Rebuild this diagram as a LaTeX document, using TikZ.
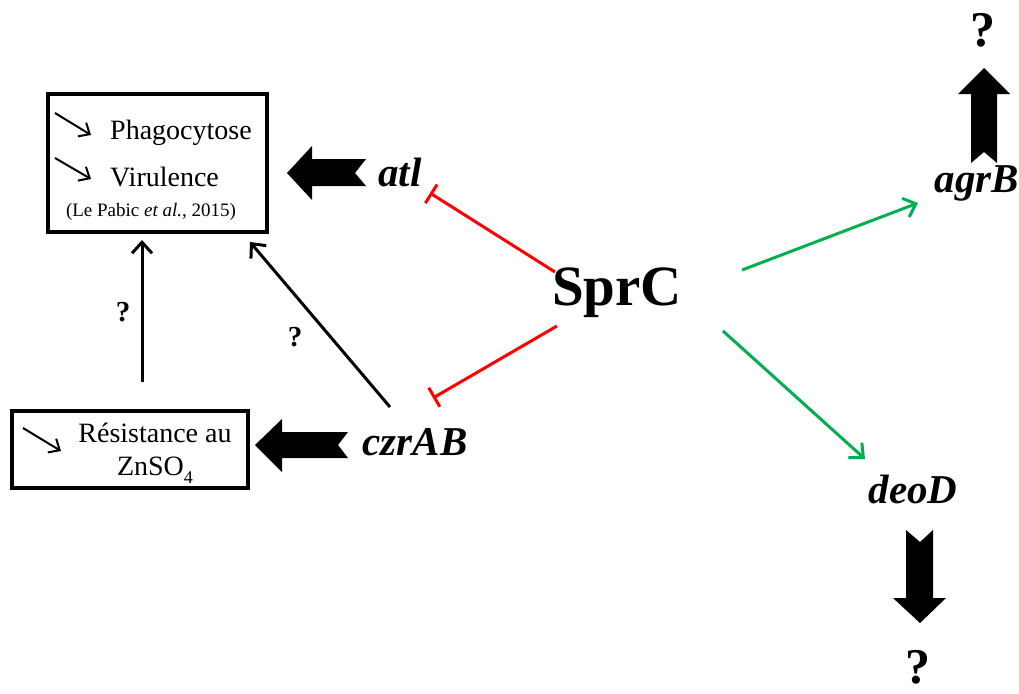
\documentclass[tikz,border=0pt]{standalone}
\usepackage{fontspec}
\setmainfont{Liberation Serif}
\usetikzlibrary{arrows.meta}
\definecolor{inhred}{RGB}{255,0,0}
\definecolor{actgreen}{RGB}{0,176,80}
\begin{document}
\begin{tikzpicture}[x=1pt,y=-1pt,
  gene/.style={font=\fontsize{41}{41}\selectfont\bfseries\itshape, inner sep=0pt},
  txt/.style={font=\fontsize{28}{28}\selectfont, inner sep=0pt},
  qm/.style={font=\fontsize{50}{50}\selectfont\bfseries, inner sep=0pt},
  qs/.style={font=\fontsize{29}{29}\selectfont\bfseries, inner sep=0pt},
  boxed/.style={draw, line width=3.5pt, inner sep=0pt},
  inh/.style={draw=inhred, line width=3pt, -{Bar[width=22pt]}},
  act/.style={draw=actgreen, line width=3pt, -{Straight Barb[length=11pt,width=20pt]}},
  blk/.style={draw=black, line width=3pt, -{Straight Barb[length=11pt,width=20pt]}},
  small/.style={draw=black, line width=2pt, -{Straight Barb[length=9pt,width=16pt]}},
  blockarrow/.style={fill=black, draw=none}
]
\useasboundingbox (0,0) rectangle (1019,693);

% boxes
\node[boxed, minimum width=219pt, minimum height=138pt] (box1) at (157.5,163) {};
\node[boxed, minimum width=236pt, minimum height=77pt] (box2) at (130,449.5) {};

% box texts
\node[txt, anchor=west] (phago) at (110,133) {Phagocytose};
\node[txt, anchor=west] (viru) at (110,177) {Virulence};
\node[font=\fontsize{19}{19}\selectfont, inner sep=0pt] (cite) at (151,212) {(Le Pabic \textit{et al.}, 2015)};
\node[txt] (resist) at (155,433) {Résistance au};
\node[txt] (znso) at (155,470) {ZnSO\raisebox{-0.3em}{\fontsize{18}{18}\selectfont 4}};

\coordinate (pa1) at (55,113); \coordinate (pa2) at (91,135);
\coordinate (va1) at (55,158); \coordinate (va2) at (91,179);
\coordinate (ra1) at (23,428); \coordinate (ra2) at (61,451);
\draw[small] (pa1) -- (pa2);
\draw[small] (va1) -- (va2);
\draw[small] (ra1) -- (ra2);

% genes
\node[font=\fontsize{57}{57}\selectfont\bfseries, inner sep=0pt] (sprc) at (617,293) {SprC};
\node[gene] (atl) at (400,172) {atl};
\node[gene] (czr) at (415,442) {czrAB};
\node[gene] (agr) at (977,183) {agrB};
\node[gene] (deo) at (913,489) {deoD};

% question marks
\node[qm] (q1) at (983,30) {?};
\node[qm] (q2) at (918,667) {?};
\node[qs] (q3) at (123,312) {?};
\node[qs] (q4) at (295,337) {?};

% block arrows
\path[blockarrow] (287,173) -- (312,146) -- (312,159) -- (366,159) -- (355,173) -- (366,186) -- (312,186) -- (312,200) -- cycle;
\path[blockarrow] (255,445) -- (282,419) -- (282,432) -- (348,432) -- (338,445) -- (348,458) -- (282,458) -- (282,472) -- cycle;
\path[blockarrow] (984,68) -- (1010,94) -- (997,94) -- (997,163) -- (984,152) -- (971,163) -- (971,94) -- (958,94) -- cycle;
\path[blockarrow] (920,623) -- (946,598) -- (933,598) -- (933,530) -- (920,542) -- (906,530) -- (906,598) -- (893,598) -- cycle;

% connector end points
\coordinate (s1) at (555,272); \coordinate (t1) at (430,193);
\coordinate (s2) at (557,326); \coordinate (t2) at (433,398);
\coordinate (s3) at (742,270); \coordinate (t3) at (918,203);
\coordinate (s4) at (723,331); \coordinate (t4) at (865,459);
\coordinate (s5) at (142,382); \coordinate (t5) at (142,240);
\coordinate (s6) at (390,407); \coordinate (t6) at (250,242);

\draw[inh] (s1) -- (t1);
\draw[inh] (s2) -- (t2);
\draw[act] (s3) -- (t3);
\draw[act] (s4) -- (t4);
\draw[blk] (s5) -- (t5);
\draw[blk] (s6) -- (t6);
\end{tikzpicture}
\end{document}
